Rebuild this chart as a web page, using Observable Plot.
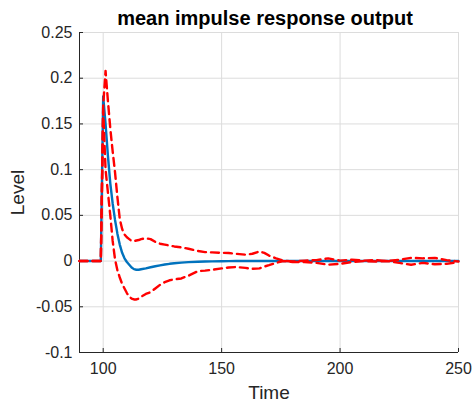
<!DOCTYPE html>
<html><head><meta charset="utf-8">
<script src="https://cdn.jsdelivr.net/npm/d3@7"></script>
<script src="https://cdn.jsdelivr.net/npm/@observablehq/plot@0.6"></script>
<style>body{margin:0;background:#fff;} svg{display:block}</style>
</head><body><div id="chart"></div>
<script>
const titleText = "mean impulse response output";
const xLabel = "Time";
const yLabel = "Level";
const xDomain = [90, 250];
const yDomain = [-0.1, 0.25];
const xTicks = [100, 150, 200, 250];
const yTicks = [-0.1, -0.05, 0, 0.05, 0.1, 0.15, 0.2, 0.25];
const yTickLabels = ["-0.1", "-0.05", "0", "0.05", "0.1", "0.15", "0.2", "0.25"];

const time = [90,95,99,100,101,102,103,104,105,106,107,108,109,110,111,112,113,114,115,116,
  118,120,122,124,126,128,130,133,136,140,143,146,150,153,156,160,163,166,168,170,173,176,
  180,185,190,195,200,205,210,215,220,225,230,235,240,245,250];
const meanResp = [0,0,0,0.18,0.15,0.115,0.085,0.063,0.045,0.03,0.018,0.009,0.003,-0.001,-0.004,-0.007,-0.0088,-0.0095,-0.0095,-0.009,
  -0.008,-0.0068,-0.0057,-0.0047,-0.0038,-0.003,-0.0024,-0.0017,-0.0012,-0.0008,-0.0005,-0.0003,-0.0002,-0.0001,0,0,0,0,0,0,0,0,
  0,0,0,0,0,0,0,0,0,0,0,0,0,0,0];
const upperResp = [0,0,0,0.17,0.208,0.175,0.145,0.12,0.097,0.07,0.046,0.035,0.029,0.026,0.024,0.022,0.022,0.0225,0.023,0.024,
  0.025,0.024,0.021,0.019,0.018,0.017,0.016,0.015,0.0135,0.011,0.0098,0.0095,0.009,0.0088,0.008,0.007,0.008,0.0105,0.009,0.006,0.003,0.0005,
  -0.0005,0.0005,0.001,0.003,0.0005,0.0015,0.0005,0.001,0,0.0015,0.0035,0.003,0.0035,0.001,-0.0005];
const lowerResp = [0,0,0,0.165,0.1,0.075,0.05,0.022,0.002,-0.01,-0.018,-0.025,-0.03,-0.035,-0.039,-0.041,-0.042,-0.042,-0.041,-0.039,
  -0.036,-0.034,-0.03,-0.026,-0.023,-0.021,-0.02,-0.019,-0.016,-0.011,-0.0105,-0.0095,-0.008,-0.007,-0.0065,-0.0075,-0.0085,-0.008,-0.006,-0.0045,-0.002,0,
  -0.001,-0.001,-0.002,-0.004,-0.003,-0.001,0,-0.0005,0,-0.002,-0.004,-0.002,-0.0035,-0.003,-0.001];

const rows = time.map((t, i) => ({t, mean: meanResp[i], upper: upperResp[i], lower: lowerResp[i]}));

const axisColor = "#262626";
const chart = Plot.plot({
  width: 472, height: 402,
  marginLeft: 79, marginRight: 14, marginTop: 32, marginBottom: 50,
  style: {fontFamily: "'Liberation Sans', Arial, sans-serif", background: "#fff", color: axisColor},
  x: {domain: xDomain},
  y: {domain: yDomain},
  marks: [
    Plot.gridX(xTicks, {stroke: "#dcdcdc", strokeOpacity: 1}),
    Plot.gridY(yTicks, {stroke: "#dcdcdc", strokeOpacity: 1}),
    Plot.ruleX([xDomain[0]], {stroke: axisColor}),
    Plot.ruleY([yDomain[0]], {stroke: axisColor}),
    Plot.axisX(xTicks, {tickSize: -4, tickPadding: 14, fontSize: 16, label: null, color: axisColor, tickFormat: d => String(d)}),
    Plot.axisY(yTicks, {tickSize: -4, tickPadding: 11, fontSize: 16, label: null, color: axisColor, tickFormat: d => yTickLabels[yTicks.indexOf(d)]}),
    Plot.line(rows, {x: "t", y: "mean", stroke: "#0072BD", strokeWidth: 2.4}),
    Plot.line(rows, {x: "t", y: "upper", stroke: "#FF0000", strokeWidth: 2.4, strokeDasharray: "8,5"}),
    Plot.line(rows, {x: "t", y: "lower", stroke: "#FF0000", strokeWidth: 2.4, strokeDasharray: "8,5"}),
    Plot.text([titleText], {text: d => d, frameAnchor: "top", lineAnchor: "middle", dy: -14, dx: -4, fontSize: 20, fontWeight: "bold", fill: "#000"}),
    Plot.text([xLabel], {text: d => d, frameAnchor: "bottom", lineAnchor: "middle", dy: 40, fontSize: 19, fill: axisColor}),
    Plot.text([yLabel], {text: d => d, frameAnchor: "left", textAnchor: "middle", lineAnchor: "middle", dx: -62, rotate: -90, fontSize: 19, fill: axisColor})
  ]
});
document.getElementById("chart").appendChild(chart);
</script>
</body></html>
